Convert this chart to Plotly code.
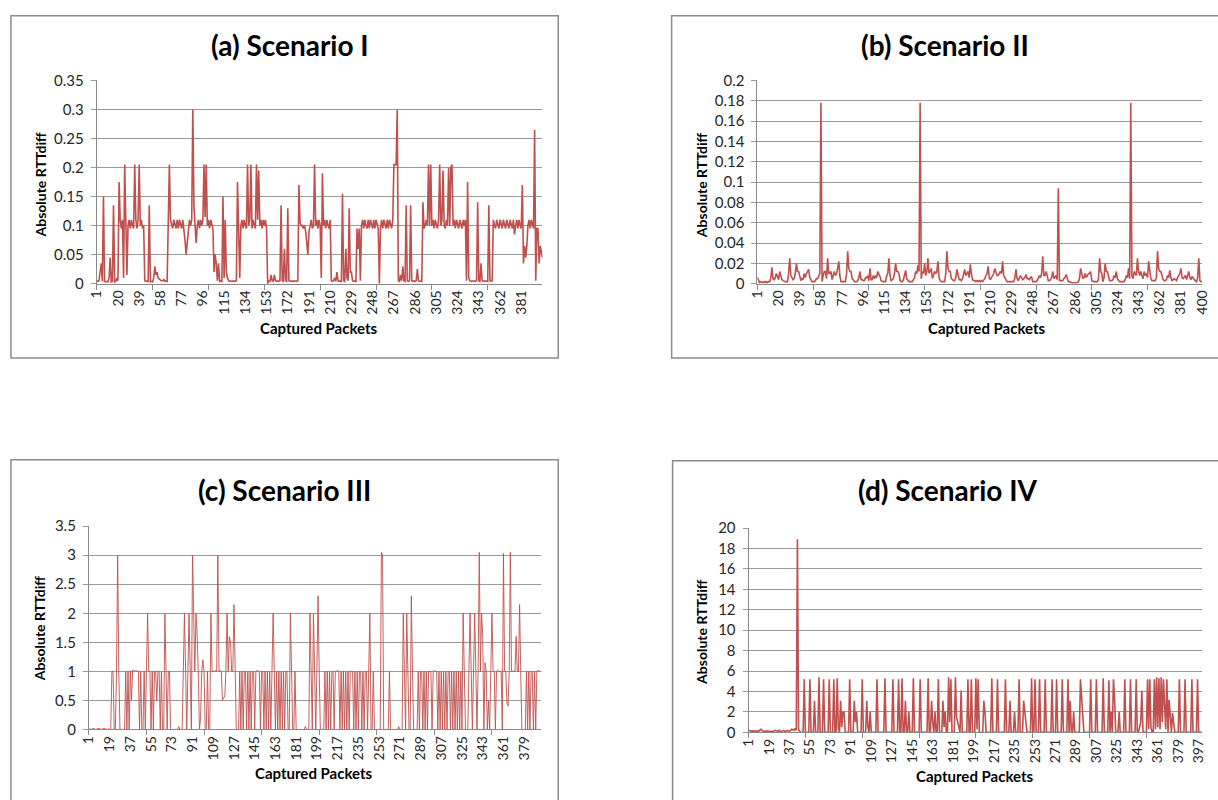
import plotly.graph_objects as go

W, H = 1218, 800

# ---------------- data ----------------
a_vals = [
    0.005,0.004,0.005,0.02,0.035,0.004,0.15,0.004,0.003,0.004,
    0.003,0.01,0.045,0.003,0.004,0.135,0.003,0.004,0.01,0.005,
    0.175,0.11,0.095,0.11,0.01,0.205,0.11,0.015,0.1,0.11,
    0.095,0.11,0.1,0.095,0.205,0.11,0.095,0.11,0.205,0.1,
    0.11,0.095,0.1,0.005,0.004,0.005,0.004,0.135,0.003,0.004,
    0.003,0.01,0.03,0.015,0.02,0.01,0.008,0.006,0.005,0.005,
    0.007,0.004,0.005,0.004,0.09,0.205,0.11,0.1,0.095,0.11,
    0.1,0.095,0.11,0.095,0.11,0.1,0.095,0.11,0.095,0.075,
    0.05,0.075,0.1,0.11,0.1,0.11,0.3,0.135,0.1,0.07,
    0.1,0.11,0.095,0.11,0.1,0.11,0.205,0.115,0.205,0.1,
    0.11,0.095,0.11,0.1,0.095,0.02,0.05,0.035,0.005,0.035,
    0.004,0.005,0.004,0.15,0.01,0.11,0.02,0.01,0.005,0.004,
    0.005,0.004,0.005,0.004,0.005,0.005,0.175,0.1,0.01,0.1,
    0.11,0.095,0.11,0.1,0.095,0.205,0.1,0.11,0.205,0.095,
    0.11,0.1,0.095,0.205,0.11,0.195,0.1,0.11,0.095,0.11,
    0.1,0.11,0.095,0.0,0.005,0.004,0.015,0.005,0.004,0.015,
    0.005,0.004,0.005,0.004,0.005,0.135,0.005,0.004,0.06,0.005,
    0.004,0.13,0.005,0.004,0.005,0.004,0.005,0.004,0.005,0.004,
    0.005,0.17,0.105,0.1,0.1,0.095,0.1,0.09,0.07,0.05,
    0.09,0.1,0.11,0.095,0.1,0.205,0.1,0.11,0.095,0.11,
    0.1,0.01,0.19,0.1,0.11,0.095,0.11,0.1,0.095,0.11,
    0.005,0.004,0.005,0.01,0.004,0.02,0.005,0.004,0.005,0.004,
    0.155,0.005,0.004,0.06,0.01,0.005,0.13,0.02,0.02,0.005,
    0.004,0.005,0.004,0.095,0.06,0.095,0.005,0.1,0.11,0.095,
    0.11,0.1,0.095,0.11,0.095,0.11,0.1,0.095,0.11,0.095,
    0.11,0.1,0.095,0.0,0.095,0.11,0.095,0.11,0.1,0.095,
    0.11,0.095,0.11,0.1,0.095,0.11,0.205,0.205,0.205,0.3,
    0.005,0.004,0.015,0.005,0.03,0.005,0.004,0.135,0.005,0.004,
    0.005,0.135,0.005,0.004,0.005,0.004,0.005,0.025,0.005,0.004,
    0.005,0.004,0.14,0.095,0.1,0.11,0.1,0.205,0.1,0.205,
    0.1,0.11,0.095,0.11,0.1,0.095,0.11,0.205,0.1,0.11,
    0.195,0.1,0.095,0.11,0.1,0.2,0.1,0.2,0.205,0.1,
    0.11,0.095,0.11,0.1,0.095,0.11,0.1,0.095,0.11,0.1,
    0.11,0.005,0.175,0.01,0.005,0.004,0.005,0.004,0.005,0.004,
    0.005,0.14,0.005,0.004,0.035,0.005,0.004,0.005,0.004,0.005,
    0.004,0.135,0.005,0.004,0.005,0.11,0.1,0.095,0.11,0.1,
    0.095,0.11,0.1,0.095,0.11,0.1,0.095,0.11,0.1,0.095,
    0.11,0.1,0.095,0.11,0.085,0.1,0.11,0.095,0.11,0.1,
    0.095,0.17,0.035,0.065,0.045,0.065,0.1,0.11,0.095,0.11,
    0.1,0.095,0.265,0.005,0.095,0.095,0.035,0.065,0.055,0.045,
]

b_vals = [
    0.006,0.004,0.001,0.002,0.001,0.001,0.002,0.001,0.002,0.001,
    0.002,0.002,0.005,0.016,0.005,0.004,0.006,0.01,0.007,0.004,
    0.012,0.008,0.004,0.003,0.002,0.002,0.002,0.002,0.01,0.025,
    0.008,0.005,0.004,0.005,0.01,0.02,0.012,0.012,0.006,0.003,
    0.005,0.004,0.01,0.006,0.01,0.012,0.014,0.006,0.003,0.002,
    0.002,0.002,0.003,0.005,0.005,0.008,0.01,0.178,0.002,0.008,
    0.012,0.012,0.005,0.025,0.01,0.01,0.012,0.004,0.007,0.012,
    0.008,0.01,0.015,0.022,0.008,0.002,0.002,0.002,0.002,0.002,
    0.01,0.032,0.015,0.012,0.012,0.005,0.004,0.002,0.002,0.002,
    0.003,0.006,0.012,0.004,0.004,0.003,0.003,0.006,0.006,0.008,
    0.003,0.015,0.004,0.004,0.008,0.005,0.008,0.006,0.012,0.01,
    0.007,0.003,0.002,0.002,0.002,0.002,0.008,0.01,0.025,0.008,
    0.003,0.004,0.005,0.01,0.02,0.012,0.012,0.01,0.003,0.002,
    0.002,0.004,0.008,0.013,0.005,0.003,0.002,0.002,0.002,0.002,
    0.004,0.006,0.012,0.01,0.018,0.012,0.178,0.005,0.012,0.01,
    0.02,0.008,0.012,0.025,0.01,0.012,0.015,0.005,0.008,0.012,
    0.01,0.012,0.022,0.006,0.003,0.002,0.002,0.002,0.002,0.01,
    0.032,0.015,0.012,0.012,0.005,0.004,0.003,0.003,0.006,0.014,
    0.008,0.004,0.004,0.003,0.005,0.01,0.014,0.008,0.01,0.012,
    0.006,0.019,0.01,0.004,0.003,0.003,0.002,0.003,0.002,0.003,
    0.002,0.003,0.002,0.003,0.005,0.008,0.01,0.017,0.006,0.004,
    0.006,0.008,0.01,0.015,0.012,0.008,0.008,0.01,0.012,0.01,
    0.022,0.008,0.006,0.004,0.002,0.002,0.002,0.002,0.002,0.002,
    0.002,0.006,0.014,0.005,0.003,0.006,0.008,0.006,0.004,0.005,
    0.006,0.009,0.005,0.005,0.004,0.006,0.007,0.002,0.002,0.002,
    0.002,0.003,0.005,0.008,0.006,0.01,0.027,0.008,0.008,0.012,
    0.008,0.003,0.003,0.004,0.006,0.012,0.005,0.006,0.008,0.004,
    0.094,0.003,0.003,0.003,0.003,0.005,0.006,0.009,0.006,0.002,
    0.002,0.001,0.001,0.001,0.001,0.001,0.001,0.001,0.002,0.005,
    0.015,0.01,0.005,0.006,0.01,0.006,0.008,0.01,0.01,0.012,
    0.003,0.002,0.002,0.002,0.002,0.002,0.004,0.025,0.012,0.01,
    0.002,0.006,0.02,0.012,0.012,0.008,0.003,0.003,0.003,0.004,
    0.008,0.006,0.012,0.005,0.003,0.002,0.002,0.002,0.002,0.002,
    0.004,0.008,0.006,0.015,0.005,0.178,0.008,0.005,0.012,0.01,
    0.008,0.025,0.012,0.008,0.012,0.008,0.005,0.012,0.008,0.01,
    0.006,0.022,0.01,0.005,0.003,0.003,0.003,0.003,0.006,0.032,
    0.015,0.012,0.012,0.008,0.004,0.003,0.003,0.004,0.008,0.006,
    0.013,0.006,0.003,0.004,0.005,0.004,0.003,0.006,0.008,0.01,
    0.015,0.006,0.005,0.006,0.008,0.004,0.01,0.012,0.006,0.004,
    0.007,0.005,0.004,0.003,0.002,0.006,0.025,0.003,0.002,0.002,
]

c_vals = [
    0.01,0.01,0.0,0.02,0.02,0.01,0.0,0.01,0.02,0.02,
    0.01,0.0,0.01,0.02,0.01,0.0,0.0,0.01,0.0,0.0,
    1.0,1.0,0.0,0.0,1.0,3.0,1.0,0.0,0.0,0.0,
    0.0,0.0,1.0,0.0,1.0,0.0,1.01,0.5,1.02,1.02,
    1.0,1.02,1.0,1.0,0.0,1.0,0.0,0.0,1.0,0.0,
    1.0,2.0,1.0,1.0,0.0,1.0,0.0,1.0,1.0,0.5,
    1.0,1.0,0.0,1.0,0.0,0.0,2.0,1.0,0.0,1.0,
    1.0,0.0,0.0,0.0,0.0,0.0,0.0,0.0,0.05,0.0,
    0.0,0.0,1.0,2.0,1.0,0.0,1.0,2.0,1.0,0.0,
    3.0,2.0,1.0,2.0,1.65,1.0,0.0,0.2,1.0,1.2,
    1.0,0.0,0.0,1.0,0.0,0.0,2.0,1.0,1.0,1.0,
    1.02,1.0,3.0,1.0,1.02,1.0,0.5,0.55,0.56,1.0,
    2.0,1.0,1.6,1.5,1.0,1.0,2.15,1.0,0.0,0.0,
    0.0,1.0,0.0,1.0,0.0,1.0,1.0,0.0,1.0,0.0,
    1.0,0.0,1.0,1.0,0.0,1.0,1.02,1.0,1.0,0.0,
    1.0,1.0,0.0,1.0,0.0,1.0,0.0,1.0,0.0,1.0,
    2.0,1.0,0.0,1.0,0.0,1.0,0.0,1.0,0.0,1.0,
    0.0,1.0,1.0,0.0,0.0,2.0,1.0,0.0,0.0,1.0,
    0.0,0.0,0.0,0.0,0.0,0.0,0.0,0.0,0.05,0.0,
    0.0,0.0,2.0,1.0,0.0,2.0,1.0,0.0,1.0,2.3,
    1.0,0.0,0.0,0.0,0.0,1.0,0.0,1.0,0.0,1.0,
    0.0,1.0,1.0,0.0,1.0,1.0,1.02,1.0,0.0,1.0,
    0.0,1.0,0.0,1.0,0.0,1.0,0.0,1.0,1.0,1.0,
    0.0,1.0,0.0,1.0,0.0,1.0,1.0,0.0,1.0,0.0,
    1.0,1.0,0.0,1.0,2.0,0.0,0.0,1.0,0.0,0.0,
    0.0,0.0,0.0,0.0,3.05,3.0,0.0,0.0,0.0,0.0,
    0.0,1.0,0.0,0.0,0.0,0.0,0.0,0.0,0.0,0.05,
    0.0,0.0,0.0,2.0,1.0,0.0,2.0,1.0,0.0,0.0,
    2.3,1.0,0.0,0.0,0.0,0.0,1.0,0.0,1.0,1.0,
    0.0,1.0,0.0,1.0,0.0,1.0,1.0,1.0,0.0,1.0,
    1.02,1.0,1.0,0.0,1.0,0.0,1.0,0.0,1.0,0.0,
    1.0,0.0,1.0,1.0,0.0,1.0,0.0,1.0,0.0,1.0,
    0.0,1.0,0.0,1.0,0.0,2.0,1.0,0.0,0.0,0.0,
    1.0,2.0,1.0,0.0,1.0,2.0,1.0,0.0,1.0,3.05,
    1.0,2.0,1.6,0.0,1.15,1.0,0.0,0.5,0.0,1.0,
    2.0,1.0,1.0,0.0,1.0,1.02,1.0,1.0,1.0,0.0,
    3.03,1.0,1.0,0.45,0.4,1.0,3.05,1.0,1.0,1.0,
    1.0,1.6,1.0,1.0,2.15,1.0,0.0,0.0,0.0,0.0,
    1.0,0.0,1.0,0.0,1.0,1.0,0.0,1.0,0.0,1.0,
    1.02,1.0,1.0,1.0,
]

d_vals = [
    0.2,0.15,0.1,0.1,0.15,0.1,0.1,0.15,0.1,0.1,
    0.25,0.3,0.15,0.1,0.1,0.1,0.15,0.1,0.1,0.1,
    0.15,0.1,0.1,0.2,0.15,0.1,0.1,0.2,0.1,0.1,
    0.15,0.2,0.1,0.1,0.2,0.15,0.1,0.2,0.3,0.25,
    0.2,0.4,0.2,18.9,0.3,0.1,0.0,0.0,0.0,5.2,
    0.0,0.0,0.0,0.0,5.2,0.0,0.0,0.0,3.1,0.0,
    0.0,0.0,5.4,0.0,0.0,0.0,5.2,0.0,0.0,0.0,
    0.0,5.2,0.0,0.0,0.0,5.2,0.0,0.0,5.3,0.4,
    0.0,3.1,0.5,2.0,2.0,0.0,0.0,0.0,0.0,5.2,
    0.0,0.0,0.0,3.1,1.0,2.0,0.0,0.0,0.0,0.0,
    5.2,0.0,0.0,0.0,3.1,0.5,0.0,2.0,0.0,0.0,
    0.0,0.0,0.0,5.2,0.0,0.0,0.0,0.0,0.0,0.0,
    5.3,0.0,0.0,0.0,0.0,0.0,0.0,5.2,0.0,0.0,
    0.0,0.0,5.2,0.0,0.0,5.3,0.0,0.0,3.1,0.0,
    0.0,2.0,0.0,0.0,0.0,5.3,0.0,0.0,0.0,0.0,
    0.0,5.2,0.0,0.0,0.0,0.0,0.0,0.0,5.3,0.0,
    0.0,3.1,1.0,0.0,2.0,0.0,0.0,5.2,0.0,0.0,
    0.0,3.1,0.5,2.0,0.0,0.0,5.4,1.0,5.2,0.0,
    0.0,0.0,5.4,1.5,1.0,0.5,0.0,4.1,0.0,0.0,
    0.0,0.0,0.0,5.2,0.0,0.0,5.2,0.0,0.0,0.0,
    5.3,0.3,5.2,0.0,0.0,0.0,0.0,3.1,2.0,0.0,
    0.0,0.0,0.0,0.0,5.3,0.0,0.0,0.0,0.0,5.2,
    0.0,0.0,0.0,0.0,0.0,0.0,5.2,0.0,0.0,0.0,
    3.1,0.0,0.0,0.0,2.0,0.0,0.0,0.0,5.2,0.0,
    0.0,0.0,3.1,2.0,1.0,0.0,0.0,0.0,0.0,5.3,
    0.0,0.0,5.2,0.0,0.0,0.0,5.2,0.0,0.0,0.0,
    0.0,5.2,0.0,0.0,0.0,0.0,0.0,5.2,0.0,0.0,
    0.0,5.2,0.0,0.0,0.0,0.0,5.2,0.0,0.0,0.0,
    0.0,5.2,0.0,3.1,0.0,0.0,2.0,0.0,0.0,0.0,
    0.0,0.0,5.2,3.5,1.0,0.0,0.0,0.0,0.0,0.0,
    0.0,5.2,0.0,0.0,0.0,0.0,5.2,0.0,0.0,0.0,
    0.0,0.0,5.3,0.0,0.0,0.0,0.0,5.1,0.0,2.0,
    0.0,5.2,3.4,0.0,0.0,0.0,2.0,0.0,0.0,0.0,
    0.0,5.2,0.0,0.0,0.0,0.0,5.2,0.0,0.0,0.0,
    0.0,5.2,0.0,0.0,0.5,1.0,4.1,0.0,0.0,0.0,
    0.0,5.2,0.3,5.2,0.5,0.0,0.0,5.2,0.3,5.4,
    0.5,5.3,0.3,5.4,1.0,5.2,2.0,0.3,5.2,0.0,
    3.2,1.0,0.0,1.9,0.5,0.0,0.0,0.0,0.0,5.2,
    0.0,0.0,0.0,0.0,5.2,0.0,0.0,0.0,0.0,0.0,
    5.2,0.0,0.0,0.0,0.0,5.2,0.0,0.0,0.0,0.0,
]

titles = ["(a) Scenario I", "(b) Scenario II", "(c) Scenario III", "(d) Scenario IV"]
y_title = "Absolute RTTdiff"
x_title = "Captured Packets"

a_x_ticks = [1,20,39,58,77,96,115,134,153,172,191,210,229,248,267,286,305,324,343,362,381]
b_x_ticks = [1,20,39,58,77,96,115,134,153,172,191,210,229,248,267,286,305,324,343,362,381,400]
c_x_ticks = [1,19,37,55,73,91,109,127,145,163,181,199,217,235,253,271,289,307,325,343,361,379]
d_x_ticks = [1,19,37,55,73,91,109,127,145,163,181,199,217,235,253,271,289,307,325,343,361,379,397]
x_marks = [1,51,101,151,201,251,301,351]

a_y_ticks = [0,0.05,0.1,0.15,0.2,0.25,0.3,0.35]
a_y_text = ["0","0.05","0.1","0.15","0.2","0.25","0.3","0.35"]
b_y_ticks = [0,0.02,0.04,0.06,0.08,0.1,0.12,0.14,0.16,0.18,0.2]
b_y_text = ["0","0.02","0.04","0.06","0.08","0.1","0.12","0.14","0.16","0.18","0.2"]
c_y_ticks = [0,0.5,1,1.5,2,2.5,3,3.5]
c_y_text = ["0","0.5","1","1.5","2","2.5","3","3.5"]
d_y_ticks = [0,2,4,6,8,10,12,14,16,18,20]
d_y_text = ["0","2","4","6","8","10","12","14","16","18","20"]

series = [a_vals, b_vals, c_vals, d_vals]
x_ticks = [a_x_ticks, b_x_ticks, c_x_ticks, d_x_ticks]
y_ticks = [a_y_ticks, b_y_ticks, c_y_ticks, d_y_ticks]
y_texts = [a_y_text, b_y_text, c_y_text, d_y_text]

# ---------------- layout geometry (pixels) ----------------
panels = [
    dict(box=(2, 6, 557, 356), plot=(89, 72, 541, 280), title=(285, 36), ylab=(32, 179), xlab=(314, 325), lw=1.6),
    dict(box=(672, 6, 1240, 356), plot=(759, 72, 1210, 280), title=(949, 36), ylab=(703, 179), xlab=(992, 325), lw=1.6),
    dict(box=(2, 460, 557, 830), plot=(81, 528, 540, 736), title=(279, 491), ylab=(31, 633), xlab=(309, 781), lw=0.9),
    dict(box=(673, 461, 1240, 830), plot=(750, 530, 1210, 739), title=(952, 491), ylab=(703, 636), xlab=(980, 784), lw=1.6),
]

def fx(px):
    return px / W

def fy(py):
    return 1 - py / H

FONT = "Lato, Carlito, 'Open Sans', sans-serif"
LINE = "#C0504D"
GRID = "#9a9a9a"
AXIS = "#8a8a8a"

fig = go.Figure()
shapes = []
annotations = []
layout = {}

for i, (vals, p) in enumerate(zip(series, panels)):
    n = i + 1
    xa = "xaxis" if n == 1 else f"xaxis{n}"
    ya = "yaxis" if n == 1 else f"yaxis{n}"
    xref = "x" if n == 1 else f"x{n}"
    yref = "y" if n == 1 else f"y{n}"
    packets = list(range(1, len(vals) + 1))
    fig.add_trace(go.Scatter(x=packets, y=vals, mode="lines", xaxis=xref, yaxis=yref,
                             line=dict(color=LINE, width=p["lw"]), showlegend=False,
                             hoverinfo="skip"))
    x0, y0, x1, y1 = p["plot"]
    yt = y_ticks[i]
    layout[xa] = dict(domain=[fx(x0), fx(x1)], anchor=yref, range=[1, len(vals)],
                      tickmode="array", tickvals=x_ticks[i], ticktext=[str(t) for t in x_ticks[i]],
                      tickangle=-90, ticks="", showgrid=False, zeroline=False,
                      showline=True, linecolor=AXIS, linewidth=1,
                      ticklabeloverflow="allow",
                      tickfont=dict(family=FONT, size=14, color="#262626"),
                      minor=dict(tickmode="array", tickvals=x_marks, ticks="outside",
                                 ticklen=5, tickcolor=AXIS, showgrid=False))
    layout[ya] = dict(domain=[fy(y1), fy(y0)], anchor=xref, range=[0, yt[-1]],
                      tickmode="array", tickvals=yt, ticktext=y_texts[i],
                      ticks="outside", ticklen=5, tickcolor=GRID,
                      showgrid=True, gridcolor=GRID, gridwidth=1, zeroline=False,
                      showline=True, linecolor=AXIS, linewidth=1,
                      ticklabelstandoff=4,
                      tickfont=dict(family=FONT, size=15, color="#262626"))
    bx0, by0, bx1, by1 = p["box"]
    shapes.append(dict(type="rect", xref="paper", yref="paper",
                       x0=fx(bx0), x1=fx(bx1), y0=fy(by1), y1=fy(by0),
                       line=dict(color="#8c8c8c", width=1.5), layer="below"))
    tx, ty = p["title"]
    annotations.append(dict(text=titles[i], x=fx(tx), y=fy(ty), xref="paper", yref="paper",
                            showarrow=False, xanchor="center", yanchor="middle",
                            font=dict(family=FONT, size=28, color="#000000", weight="bold")))
    lx, ly = p["ylab"]
    annotations.append(dict(text=y_title, x=fx(lx), y=fy(ly), xref="paper", yref="paper",
                            showarrow=False, xanchor="center", yanchor="middle", textangle=-90,
                            font=dict(family=FONT, size=14, color="#000000", weight="bold")))
    cx, cy = p["xlab"]
    annotations.append(dict(text=x_title, x=fx(cx), y=fy(cy), xref="paper", yref="paper",
                            showarrow=False, xanchor="center", yanchor="middle",
                            font=dict(family=FONT, size=15, color="#000000", weight="bold")))

fig.update_layout(width=W, height=H, margin=dict(l=0, r=0, t=0, b=0),
                  paper_bgcolor="white", plot_bgcolor="white",
                  shapes=shapes, annotations=annotations, **layout)

fig.write_html("out.html", config={"displayModeBar": False},
               post_script="document.body.style.margin='0';document.body.style.overflow='hidden';")
